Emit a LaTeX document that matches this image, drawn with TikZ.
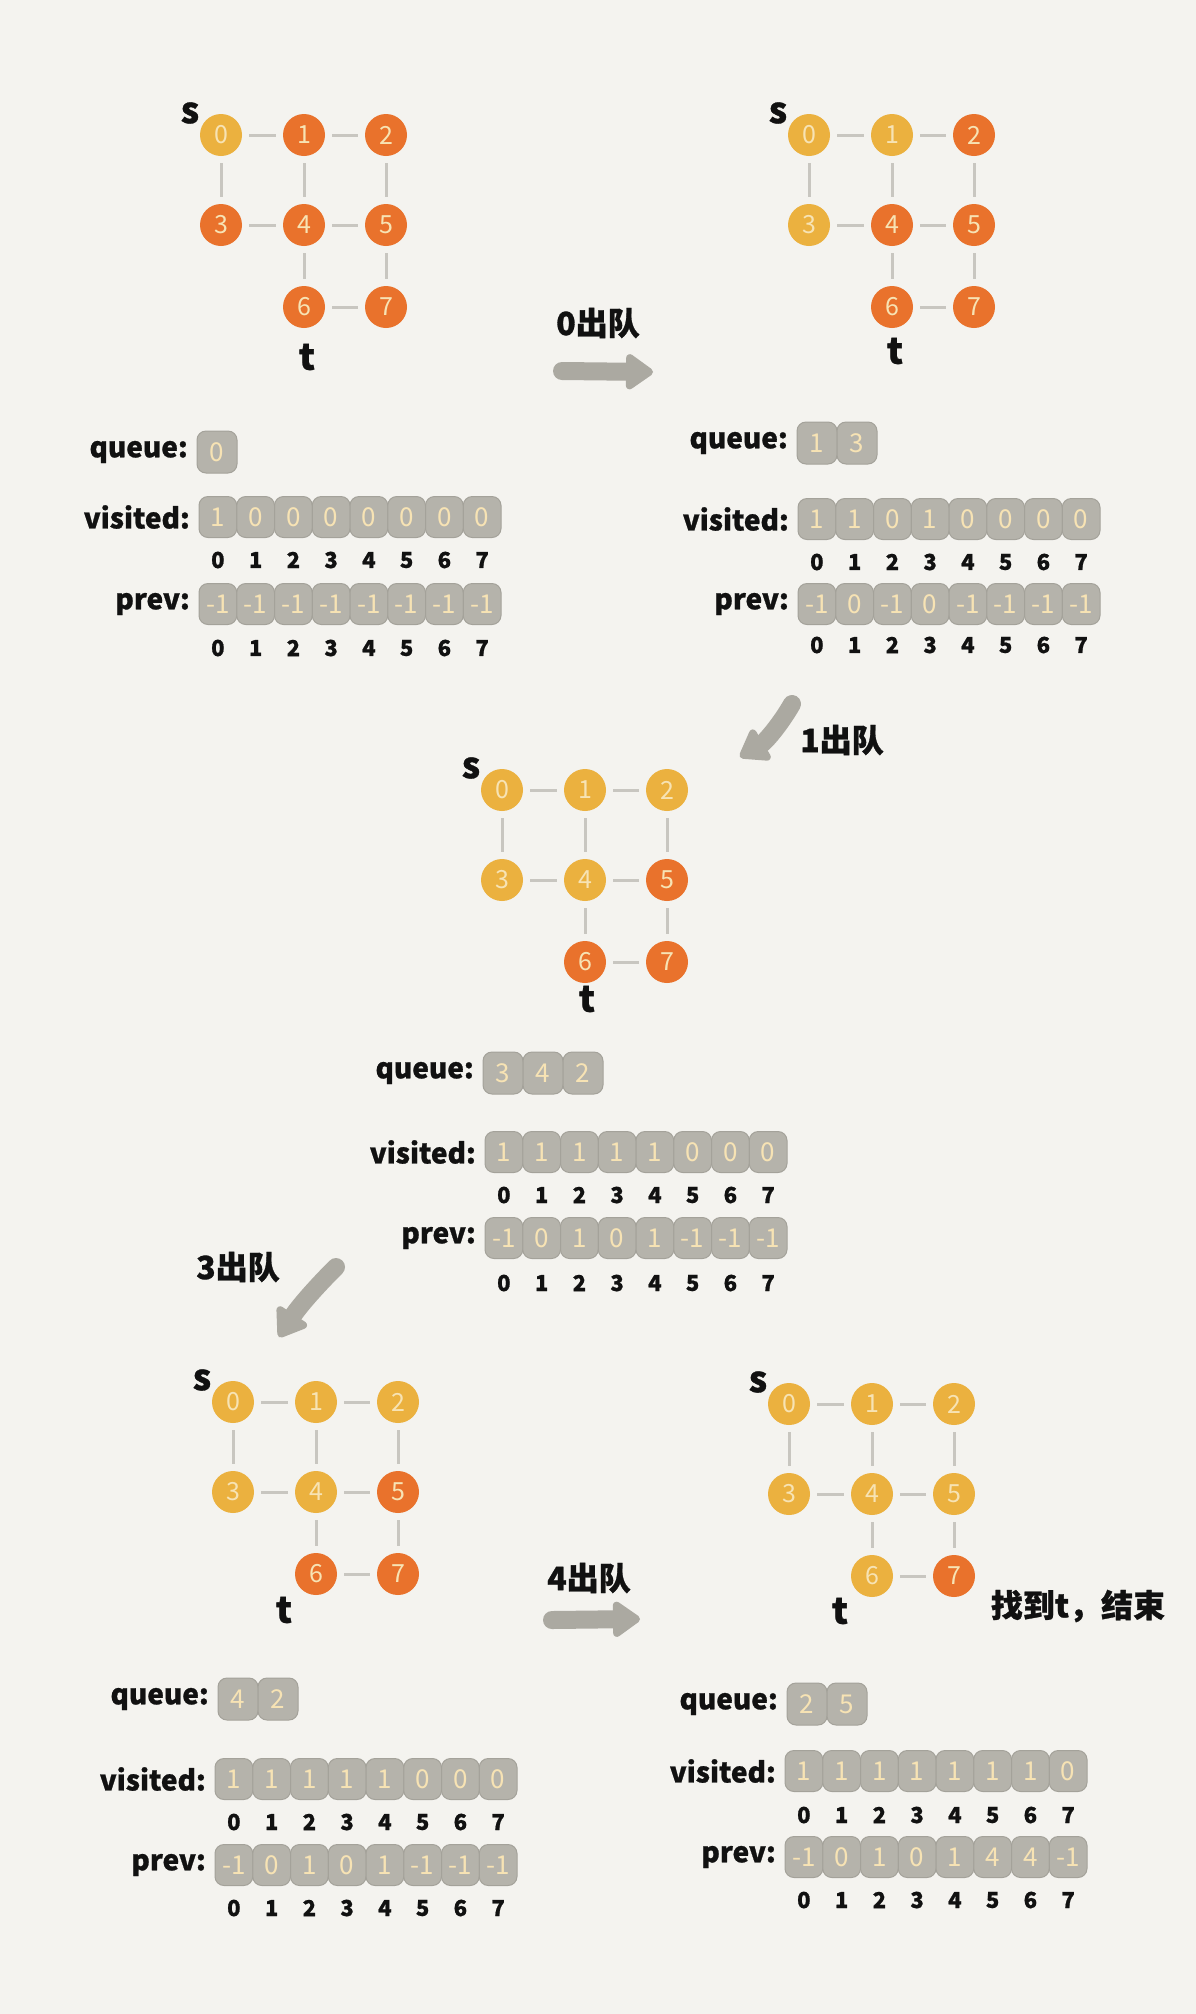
\documentclass[tikz,border=0pt]{standalone}
\usepackage{fontspec}
\setmainfont{Noto Sans CJK SC}
\newfontfamily\inkfont[FakeBold=0.9]{Noto Sans CJK SC}
\usetikzlibrary{arrows.meta}
\definecolor{bg}{HTML}{F4F3EF}
\definecolor{Y}{HTML}{EBB13F}
\definecolor{O}{HTML}{E9722C}
\definecolor{edgegray}{HTML}{C8C6C0}
\definecolor{cellgray}{HTML}{B5B3AB}
\definecolor{celledge}{HTML}{A4A29A}
\definecolor{cream}{HTML}{F7E3B4}
\definecolor{arrowgray}{HTML}{ABA9A1}
\definecolor{ink}{HTML}{111111}

\tikzset{
 gnode/.style={circle, minimum size=42pt, inner sep=0pt, text=cream, font=\fontsize{25}{25}\selectfont},
 gedge/.style={draw=edgegray, line width=3pt, shorten <=7pt, shorten >=7pt},
 stlabel/.style={text=ink, font=\inkfont\bfseries\fontsize{36}{36}\selectfont, inner sep=0pt},
 cell/.style={rectangle, rounded corners=9pt, fill=cellgray, draw=celledge, line width=1pt, minimum width=37.75pt, minimum height=41pt, inner sep=0pt, text=cream, font=\fontsize{26}{26}\selectfont},
 qcell/.style={cell, minimum width=40pt, minimum height=42pt},
 arrlabel/.style={text=ink, anchor=east, inner sep=0pt, font=\inkfont\bfseries\fontsize{28}{28}\selectfont},
 idx/.style={text=ink, inner sep=0pt, font=\inkfont\bfseries\fontsize{22}{22}\selectfont},
 bigarrow/.style={draw=arrowgray, line width=18pt, line cap=round, -{Triangle[width=40pt,length=30pt,round]}},
 cjklabel/.style={text=ink, inner sep=0pt, font=\inkfont\bfseries\fontsize{32}{32}\selectfont},
}

% graph panel: prefix, x0, y0, colour list, t dx, t dy
\newcommand\bfsgraph[6]{%
 \foreach \gc [count=\i from 0] in {#4}{
   \pgfmathsetmacro\gdx{{0,83,165,0,83,165,83,165}[\i]}
   \pgfmathsetmacro\gdy{{0,0,0,90,90,90,172,172}[\i]}
   \node[gnode, fill=\gc] (#1\i) at ({#2+\gdx},{#3+\gdy}) {\i};
 }
 \foreach \a/\b in {0/1,1/2,0/3,1/4,2/5,3/4,4/5,4/6,5/7,6/7} \draw[gedge] (#1\a) -- (#1\b);
 \node[stlabel] (#1s) at ({#2-31},{#3-22}) {s};
 \node[stlabel] (#1t) at ({#2+83+#5},{#3+172+#6}) {t};
}
% queue row: name, x left, y, list
\newcommand\qrow[4]{%
 \foreach \v [count=\i from 0] in {#4} \node[qcell] (#1\i) at ({#2+20+40*\i},#3) {\v};
 \node[arrlabel] (#1l) at ({#2-9},#3) {queue:};
}
% array row: name, label, x left, y, list
\newcommand\arow[5]{%
 \foreach \v [count=\i from 0] in {#5} \node[cell] (#1\i) at ({#3+18.875+37.75*\i},#4) {\v};
 \node[arrlabel] (#1l) at ({#3-9},#4) {#2};
}
% index row: name, x left, y
\newcommand\irow[3]{%
 \foreach \i in {0,...,7} \node[idx] (#1\i) at ({#2+18.875+37.75*\i},#3) {\i};
}

\begin{document}
\begin{tikzpicture}[x=1pt,y=-1pt]
\useasboundingbox (0,0) rectangle (1196,2014);
\fill[bg] (0,0) rectangle (1196,2014);

% ---------- panel 1 ----------
\bfsgraph{a}{221}{135}{Y,O,O,O,O,O,O,O}{3}{50}
\qrow{aq}{197}{452}{0}
\arow{av}{visited:}{199}{517}{1,0,0,0,0,0,0,0}
\irow{avi}{199}{560}
\arow{ap}{prev:}{199}{604}{-1,-1,-1,-1,-1,-1,-1,-1}
\irow{api}{199}{648}

% ---------- panel 2 ----------
\bfsgraph{b}{809}{135}{Y,Y,O,Y,O,O,O,O}{3}{44}
\qrow{bq}{797}{443}{1,3}
\arow{bv}{visited:}{798}{519}{1,1,0,1,0,0,0,0}
\irow{bvi}{798}{562}
\arow{bp}{prev:}{798}{604}{-1,0,-1,0,-1,-1,-1,-1}
\irow{bpi}{798}{645}

% ---------- panel 3 ----------
\bfsgraph{c}{502}{790}{Y,Y,Y,Y,Y,O,O,O}{2}{37}
\qrow{cq}{483}{1073}{3,4,2}
\arow{cv}{visited:}{485}{1152}{1,1,1,1,1,0,0,0}
\irow{cvi}{485}{1195}
\arow{cp}{prev:}{485}{1238}{-1,0,1,0,1,-1,-1,-1}
\irow{cpi}{485}{1283}

% ---------- panel 4 ----------
\bfsgraph{d}{233}{1402}{Y,Y,Y,Y,Y,O,O,O}{-32}{36}
\qrow{dq}{218}{1699}{4,2}
\arow{dv}{visited:}{215}{1779}{1,1,1,1,1,0,0,0}
\irow{dvi}{215}{1822}
\arow{dp}{prev:}{215}{1865}{-1,0,1,0,1,-1,-1,-1}
\irow{dpi}{215}{1908}

% ---------- panel 5 ----------
\bfsgraph{e}{789}{1404}{Y,Y,Y,Y,Y,Y,Y,O}{-32}{35}
\qrow{eq}{787}{1704}{2,5}
\arow{ev}{visited:}{785}{1771}{1,1,1,1,1,1,1,0}
\irow{evi}{785}{1815}
\arow{ep}{prev:}{785}{1857}{-1,0,1,0,1,4,4,-1}
\irow{epi}{785}{1900}

% ---------- arrows ----------
\coordinate (ar1s) at (562,371);  \coordinate (ar1e) at (653,372);
\draw[bigarrow] (ar1s) -- (ar1e);
\coordinate (ar2s) at (792,704);  \coordinate (ar2e) at (740,757);
\draw[bigarrow] (ar2s) .. controls (780,725) and (765,742) .. (ar2e);
\coordinate (ar3s) at (336,1267); \coordinate (ar3e) at (279,1337);
\draw[bigarrow] (ar3s) .. controls (318,1285) and (300,1305) .. (ar3e);
\coordinate (ar4s) at (552,1620); \coordinate (ar4e) at (640,1619);
\draw[bigarrow] (ar4s) -- (ar4e);

\node[cjklabel] (l1) at (598,323) {0出队};
\node[cjklabel] (l2) at (842,740) {1出队};
\node[cjklabel] (l3) at (238,1267) {3出队};
\node[cjklabel] (l4) at (589,1578) {4出队};
\node[cjklabel] (l5) at (1078,1606) {找到t，结束};
\end{tikzpicture}
\end{document}
